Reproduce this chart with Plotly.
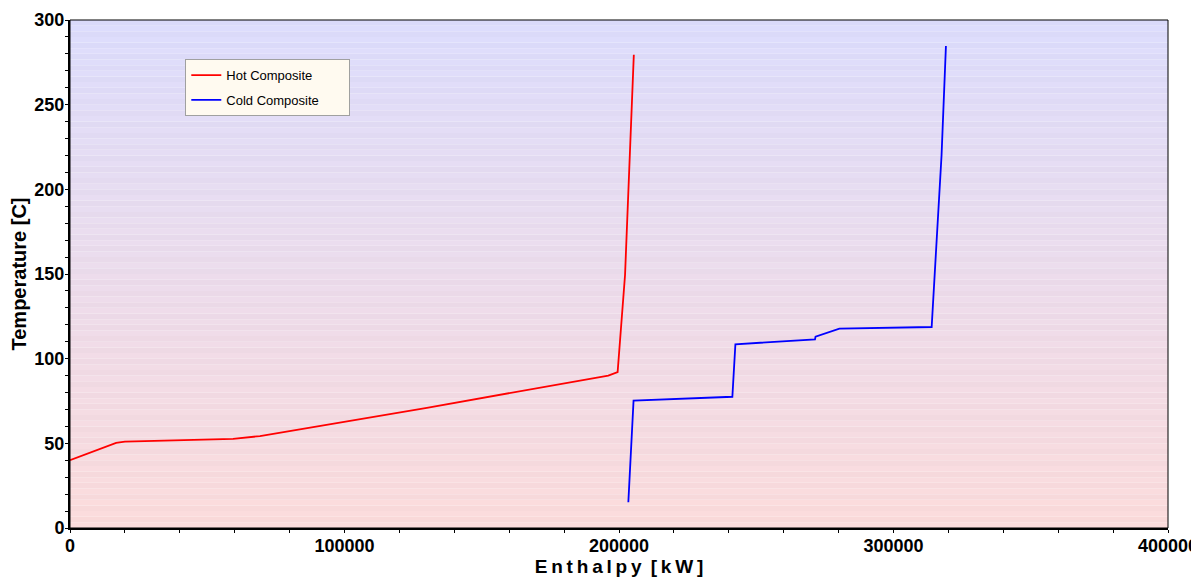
import plotly.graph_objects as go

# Data
hot_enthalpy = [0, 16800, 20000, 59400, 69200, 130000, 196100, 199500, 202200, 205400]
hot_temp = [40, 50.3, 51, 52.6, 54.3, 71, 90, 92.1, 149.4, 279.5]

cold_enthalpy = [203400, 205300, 241300, 242400, 271400, 271600, 280300, 313900, 317500, 319100]
cold_temp = [15.2, 75.2, 77.5, 108.5, 111.4, 113, 117.7, 118.7, 220, 284.6]

x_ticks = [0, 100000, 200000, 300000, 400000]
y_ticks = [0, 50, 100, 150, 200, 250, 300]
x_range = [0, 400000]
y_range = [0, 300]

fig = go.Figure()

# gradient background (lavender top -> pink bottom) with faint bands
n = 90
top = (221, 221, 253)
bot = (252, 220, 220)
for i in range(n):
    f = i / (n - 1)
    r = round(bot[0] + (top[0] - bot[0]) * f)
    g = round(bot[1] + (top[1] - bot[1]) * f)
    b = round(bot[2] + (top[2] - bot[2]) * f)
    if i % 2 == 1:
        r, g, b = max(r - 3, 0), max(g - 3, 0), max(b - 3, 0)
    fig.add_shape(type="rect", xref="x domain", yref="y domain",
                  x0=0, x1=1, y0=i / n, y1=(i + 1) / n,
                  fillcolor=f"rgb({r},{g},{b})", line_width=0, layer="below")

fig.add_shape(type="rect", xref="x domain", yref="y domain", x0=0, x1=1, y0=0, y1=1,
              line=dict(color="black", width=1), fillcolor="rgba(0,0,0,0)", layer="above")

pad = "\u00a0" * 7
fig.add_trace(go.Scatter(x=hot_enthalpy, y=hot_temp, mode="lines", name="Hot Composite" + pad,
                         legendgroup="h", line=dict(color="#ff0000", width=1.8)))
fig.add_trace(go.Scatter(x=cold_enthalpy, y=cold_temp, mode="lines", name="Cold Composite" + pad,
                         legendgroup="c", line=dict(color="#0000ff", width=1.8)))

tickfont = dict(family="Liberation Sans, Arial", size=18, color="black", weight="bold")
ts = "\u2009"
x_title = ts.join("Enthalpy") + "\u00a0" + ts + ts.join("[kW]")

# page body has an 8px margin, so the figure is sized/offset to compensate
fig.update_layout(
    width=1191, height=571,
    margin=dict(l=62, r=31, t=12, b=51),
    paper_bgcolor="white", plot_bgcolor="white",
    showlegend=True,
    legend=dict(x=0.105, y=0.923, xanchor="left", yanchor="top",
                bgcolor="#fffaf0", bordercolor="#a0a0a0", borderwidth=1,
                font=dict(family="Liberation Sans, Arial", size=13, color="black"),
                itemwidth=30, traceorder="grouped", tracegroupgap=5),
    xaxis=dict(range=x_range, tickvals=x_ticks,
               ticktext=[str(v) for v in x_ticks], automargin=False,
               showgrid=False, zeroline=False, showline=True, linecolor="black", linewidth=2,
               ticks="",
               minor=dict(dtick=20000, ticks="outside", ticklen=3, tickcolor="black", showgrid=False),
               tickfont=tickfont,
               title=dict(text=x_title, standoff=4,
                          font=dict(family="Liberation Sans, Arial", size=19, color="black", weight="bold"))),
    yaxis=dict(range=y_range, tickvals=y_ticks, automargin=False,
               showgrid=False, zeroline=False, showline=True, linecolor="black", linewidth=2,
               ticks="",
               minor=dict(dtick=10, ticks="outside", ticklen=3, tickcolor="black", showgrid=False),
               tickfont=tickfont,
               title=dict(text="Temperature [C]", standoff=13,
                          font=dict(family="Liberation Sans, Arial", size=20, color="black", weight="bold"))),
    # overlay axes that only draw the longer major tick marks
    xaxis2=dict(range=x_range, tickvals=x_ticks, overlaying="x", anchor="y", side="bottom",
                showticklabels=False, showline=False, showgrid=False, zeroline=False,
                ticks="outside", ticklen=5, tickwidth=1.5, tickcolor="black", automargin=False),
    yaxis2=dict(range=y_range, tickvals=y_ticks, overlaying="y", anchor="x", side="left",
                showticklabels=False, showline=False, showgrid=False, zeroline=False,
                ticks="outside", ticklen=5, tickwidth=1.5, tickcolor="black", automargin=False),
)

fig.write_html("out.html")
